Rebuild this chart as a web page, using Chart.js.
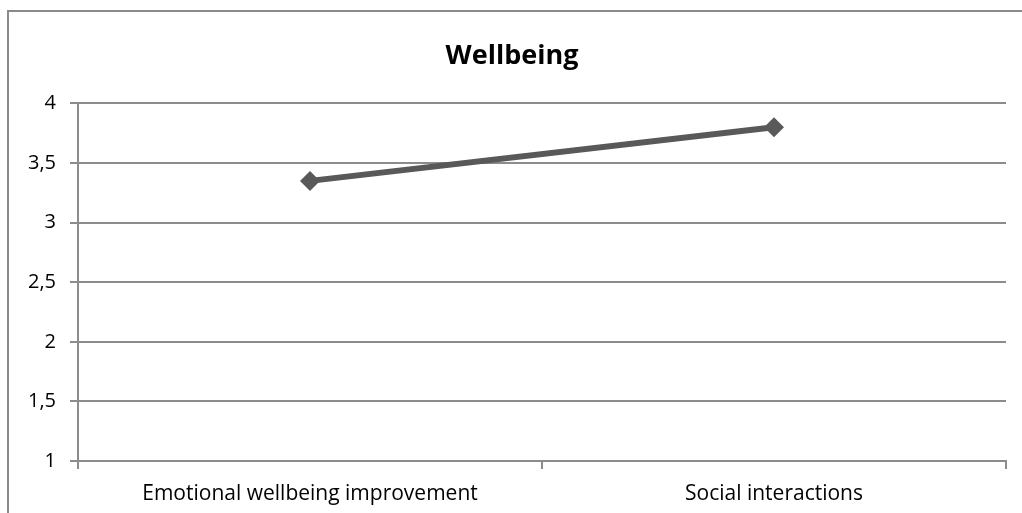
<!DOCTYPE html>
<html>
<head>
<meta charset="utf-8">
<script src="https://cdn.jsdelivr.net/npm/chart.js@4"></script>
<style>
  html, body { margin: 0; padding: 0; background: #fff; overflow: hidden; }
  #frame {
    position: absolute; left: 7px; top: 10px; width: 1100px; height: 600px;
    border-left: 2px solid #8a8a8a; border-top: 2px solid #8a8a8a;
  }
  #wrap { position: absolute; left: 0; top: 0; width: 1022px; height: 513px; }
</style>
</head>
<body>
<div id="frame"></div>
<div id="wrap"><canvas id="chart"></canvas></div>
<script>
// data
const categories = ['Emotional wellbeing improvement', 'Social interactions'];
const wellbeing = [3.35, 3.8];
const yTicks = [1, 1.5, 2, 2.5, 3, 3.5, 4];

const FONT = '"Open Sans", sans-serif';
const GRID = '#8c8c8c';

const ctx = document.getElementById('chart').getContext('2d');
new Chart(ctx, {
    type: 'line',
    data: {
        labels: categories,
        datasets: [{
            label: 'Wellbeing',
            data: wellbeing,
            borderColor: '#595959',
            backgroundColor: '#595959',
            borderWidth: 6,
            pointStyle: 'rectRot',
            pointRadius: 10,
            pointHoverRadius: 10,
            pointBorderWidth: 0
        }]
    },
    options: {
        responsive: true,
        maintainAspectRatio: false,
        animation: false,
        layout: { padding: { left: 18, right: 16, top: 0, bottom: 0 } },
        plugins: {
            legend: { display: false },
            tooltip: { enabled: false },
            title: {
                display: true,
                text: 'Wellbeing',
                color: '#000',
                font: { family: FONT, size: 27, weight: 'bold' },
                padding: { top: 40, bottom: 31 }
            }
        },
        scales: {
            x: {
                offset: true,
                grid: { offset: true, drawOnChartArea: false, drawTicks: true, tickLength: 8, color: GRID, lineWidth: 2 },
                border: { color: GRID, width: 2 },
                ticks: { color: '#000', font: { family: FONT, size: 21 }, padding: 12, maxRotation: 0 },
                afterFit: s => { s.height = 52; }
            },
            y: {
                min: 1,
                max: 4,
                afterBuildTicks: s => { s.ticks = yTicks.map(v => ({ value: v })); },
                grid: { color: GRID, lineWidth: 2, tickLength: 8 },
                border: { color: GRID, width: 2 },
                ticks: {
                    color: '#000',
                    font: { family: FONT, size: 20 },
                    padding: 14,
                    callback: v => String(v).replace('.', ',')
                },
                afterFit: s => { s.width = 60; }
            }
        }
    }
});
</script>
</body>
</html>
